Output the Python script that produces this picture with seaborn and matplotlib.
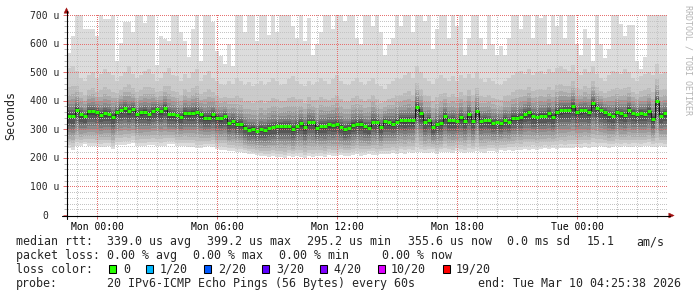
import numpy as np
import pandas as pd
import matplotlib
matplotlib.use("Agg")
import matplotlib.pyplot as plt
import seaborn as sns
from matplotlib.patches import Rectangle, Polygon
from matplotlib.lines import Line2D
from matplotlib.colors import to_rgba

# ---------------- data (microseconds, one value per 12-minute column) ----------------
median_us = [
    348, 348, 369, 352, 346, 363, 363, 360, 351, 357,
    354, 344, 360, 367, 373, 363, 370, 355, 360, 362,
    355, 365, 370, 365, 376, 352, 352, 351, 344, 358,
    357, 358, 361, 352, 339, 341, 352, 341, 338, 346,
    322, 330, 319, 319, 306, 298, 302, 295, 300, 298,
    304, 307, 310, 311, 311, 311, 301, 311, 321, 307,
    324, 324, 305, 311, 311, 318, 315, 318, 309, 301,
    305, 316, 318, 320, 311, 306, 326, 326, 307, 328,
    325, 320, 327, 334, 331, 333, 333, 379, 356, 327,
    334, 307, 319, 322, 347, 331, 332, 329, 342, 329,
    352, 329, 363, 329, 334, 331, 322, 326, 322, 334,
    326, 341, 341, 342, 354, 359, 346, 344, 348, 348,
    356, 344, 362, 366, 368, 368, 381, 360, 366, 366,
    362, 392, 376, 368, 361, 353, 347, 361, 356, 349,
    369, 358, 353, 358, 354, 365, 337, 399, 348, 356,
]
max_us = [
    566, 626, 700, 700, 650, 650, 650, 627, 700, 686,
    686, 700, 538, 601, 676, 676, 641, 700, 700, 671,
    700, 700, 526, 626, 615, 610, 700, 700, 640, 610,
    552, 650, 700, 538, 700, 700, 676, 575, 558, 527,
    597, 521, 700, 700, 640, 700, 700, 610, 700, 700,
    630, 700, 640, 700, 700, 700, 660, 620, 700, 610,
    690, 560, 600, 640, 700, 700, 650, 700, 700, 680,
    700, 700, 620, 600, 700, 700, 660, 700, 640, 560,
    600, 620, 700, 660, 700, 700, 640, 700, 700, 680,
    700, 580, 650, 700, 700, 620, 700, 660, 700, 560,
    620, 700, 700, 620, 580, 700, 600, 560, 590, 560,
    620, 700, 700, 650, 700, 700, 620, 700, 690, 700,
    600, 700, 660, 700, 620, 700, 700, 600, 560, 650,
    620, 540, 700, 600, 550, 580, 700, 700, 668, 627,
    664, 664, 540, 512, 553, 700, 700, 700, 700, 700,
]
second_max_us = [
    515, 520, 505, 480, 470, 490, 500, 480, 495, 510,
    500, 490, 470, 485, 500, 520, 495, 480, 490, 505,
    510, 495, 470, 480, 500, 515, 490, 485, 470, 495,
    480, 500, 510, 470, 490, 505, 480, 470, 460, 455,
    470, 460, 480, 470, 455, 465, 450, 460, 470, 455,
    465, 480, 470, 455, 460, 475, 485, 470, 460, 450,
    470, 455, 465, 480, 470, 460, 475, 490, 470, 460,
    455, 470, 480, 465, 455, 470, 480, 460, 450, 440,
    460, 470, 480, 475, 490, 500, 480, 520, 500, 480,
    470, 460, 475, 490, 480, 470, 485, 470, 490, 480,
    495, 480, 500, 475, 465, 480, 470, 460, 455, 470,
    480, 490, 500, 505, 495, 510, 490, 500, 505, 495,
    510, 500, 515, 520, 510, 505, 525, 500, 490, 510,
    500, 520, 495, 480, 470, 490, 505, 500, 495, 510,
    500, 480, 470, 485, 495, 500, 490, 530, 495, 500,
]
min_us = [
    233, 227, 241, 240, 247, 241, 241, 240, 239, 239,
    240, 230, 245, 245, 246, 248, 251, 241, 241, 240,
    245, 245, 241, 240, 241, 247, 248, 241, 241, 240,
    239, 239, 233, 235, 239, 240, 238, 230, 229, 227,
    225, 225, 222, 222, 218, 215, 212, 210, 207, 205,
    203, 206, 202, 204, 200, 205, 203, 207, 204, 201,
    205, 203, 208, 206, 204, 209, 207, 205, 210, 208,
    206, 210, 212, 208, 210, 213, 211, 209, 214, 212,
    214, 216, 213, 218, 215, 220, 217, 222, 219, 216,
    218, 221, 215, 219, 222, 220, 217, 223, 220, 218,
    222, 219, 224, 221, 218, 223, 225, 222, 226, 224,
    227, 225, 229, 226, 230, 228, 232, 229, 231, 233,
    230, 234, 232, 235, 233, 236, 234, 237, 235, 238,
    236, 239, 237, 240, 238, 236, 239, 241, 238, 240,
    237, 239, 241, 238, 240, 242, 239, 237, 240, 238,
]

x_tick_hours = [0, 6, 12, 18, 24]
x_tick_labels = ["Mon 00:00", "Mon 06:00", "Mon 12:00", "Mon 18:00", "Tue 00:00"]
y_tick_values = [0, 100, 200, 300, 400, 500, 600, 700]
y_tick_labels = ["0", "100 u", "200 u", "300 u", "400 u", "500 u", "600 u", "700 u"]

loss_labels = ["0", "1/20", "2/20", "3/20", "4/20", "10/20", "19/20"]
loss_colors = ["#26ff00", "#00b8ff", "#0059ff", "#5e00ff", "#7e00ff", "#dd00ff", "#ff0000"]

# ---------------- setup ----------------
sns.set_style("white")
plt.rcParams["font.family"] = ["DejaVu Sans Mono", "DejaVu Sans"]

W, H = 697, 297
L, R, T, B = 67, 667, 15, 215
PW, PH = R - L, B - T
fig = plt.figure(figsize=(W / 100, H / 100), dpi=100)
fig.patch.set_facecolor("white")
ax = fig.add_axes([L / W, 1 - B / H, PW / W, PH / H])
ax.set_facecolor("white")


def fx(x):
    return x / W


def fy(y):
    return 1 - y / H


STEP = 0.2
START = -1.5
n = len(median_us)
med = np.array(median_us, float)
hi = np.array(max_us, float)
hi2 = np.array(second_max_us, float)
lo = np.array(min_us, float)
edges = START + STEP * np.arange(n + 1)
XMAX = START + STEP * n


def ext(a):
    return np.append(a, a[-1])


# smoke bands (outer -> inner)
up_frac = [None, None, 0.60, 0.44, 0.33, 0.24, 0.17, 0.11, 0.065, 0.03]
lo_frac = [1.0, 0.90, 0.80, 0.70, 0.60, 0.50, 0.41, 0.32, 0.23, 0.11]
greys = ["#dcdcdc", "#cbcbcb", "#bbbbbb", "#ababab", "#9b9b9b",
         "#8b8b8b", "#7a7a7a", "#686868", "#565656", "#434343"]
for k in range(10):
    if k == 0:
        up = hi
    elif k == 1:
        up = hi2
    else:
        up = med + (hi2 - med) * up_frac[k]
    low = med - (med - lo) * lo_frac[k]
    ax.fill_between(edges, ext(low), ext(up), step="post", color=greys[k],
                    linewidth=0, zorder=1)

# dotted grid as a pixel-exact overlay (1 px dots every 2 px), over the smoke
GRID_MINOR = to_rgba("#c4c4c4")
GRID_MAJOR = to_rgba("#e67070")
grid_img = np.zeros((PH, PW, 4))
dot_cols = np.arange(1, PW, 2)
dot_rows = np.arange(0, PH, 2)


def hrow(v):
    return int(round((700 - v) * PH / 700.0))


def vcol(h):
    return int(round((h - START) * PW / (XMAX - START)))


for v in range(20, 701, 20):
    r = hrow(v)
    if 0 <= r < PH:
        grid_img[r, dot_cols] = GRID_MAJOR if v % 100 == 0 else GRID_MINOR
for h in range(-1, 29):
    c = vcol(h)
    if 0 <= c < PW:
        grid_img[dot_rows, c] = GRID_MAJOR if h % 6 == 0 else GRID_MINOR
ax.imshow(grid_img, extent=(START, XMAX, 0, 700), aspect="auto",
          interpolation="none", origin="upper", zorder=2.5)

# median: dark step connectors + green segments
df = pd.DataFrame({"t": edges, "v": ext(med)})
sns.lineplot(data=df, x="t", y="v", drawstyle="steps-post", color="#1a1a1a",
             linewidth=0.75, ax=ax, zorder=3)
ax.hlines(med, edges[:-1], edges[1:], colors=loss_colors[0], linewidth=2.2,
          zorder=4, capstyle="butt")

# limits / ticks
ax.set_xlim(START, XMAX)
ax.set_ylim(0, 700)
ax.set_xticks(x_tick_hours)
ax.set_xticks(np.arange(-1, 29), minor=True)
ax.set_yticks(y_tick_values)
ax.set_yticks(np.arange(0, 701, 20), minor=True)
ax.set_xticklabels(x_tick_labels, fontsize=7)
ax.set_yticklabels([])
ax.set_xlabel("")
ax.set_ylabel("")
ax.grid(False)
ax.tick_params(axis="x", which="major", length=3, width=0.72, color="#e07070",
               pad=2.3, labelsize=7, labelcolor="black", direction="out", bottom=True)
ax.tick_params(axis="x", which="minor", length=2, width=0.72, color="#b8b8b8",
               direction="out", bottom=True)
ax.tick_params(axis="y", which="major", length=3, width=0.72, color="#e07070",
               direction="out", left=True)
ax.tick_params(axis="y", which="minor", length=2, width=0.72, color="#b8b8b8",
               direction="out", left=True)
for s in ax.spines.values():
    s.set_visible(False)

# y tick labels
for v, lab in zip(y_tick_values, y_tick_labels):
    ypix = B - v * PH / 700.0
    xr = 47.8 if lab == "0" else 59.2
    fig.text(fx(xr), fy(ypix + 3.6), lab, ha="right", va="baseline", fontsize=7)

# axis lines with arrows
fig.add_artist(Line2D([fx(L - 0.5), fx(L - 0.5)], [fy(219), fy(11)], color="black", linewidth=0.8))
fig.add_artist(Line2D([fx(62), fx(670)], [fy(B + 0.5), fy(B + 0.5)], color="black", linewidth=0.8))
fig.add_artist(Polygon([[fx(64.0), fy(13.2)], [fx(69.0), fy(13.2)], [fx(66.5), fy(7.8)]],
                       closed=True, facecolor="#a01010", edgecolor="#a01010", linewidth=0.3))
fig.add_artist(Polygon([[fx(668.8), fy(213.0)], [fx(668.8), fy(218.0)], [fx(674.2), fy(215.5)]],
                       closed=True, facecolor="#a01010", edgecolor="#a01010", linewidth=0.3))

# y label & watermark
fig.text(fx(11), fy(115), "Seconds", rotation=90, ha="center", va="center", fontsize=8.4)
fig.text(fx(688), fy(60), "RRDTOOL / TOBI OETIKER", rotation=270, ha="center",
         va="center", fontsize=6, color="#b4b4b4")

# legend
FS = 8.4
def t(x, y, s, **kw):
    fig.text(fx(x), fy(y), s, ha="left", va="baseline", fontsize=FS, **kw)

y1, y2, y3, y4 = 245.3, 259.0, 273.0, 287.0
t(16, y1, "median rtt:")
t(107.3, y1, "339.0 us avg")
t(207.3, y1, "399.2 us max")
t(306.7, y1, "295.2 us min")
t(407.7, y1, "355.6 us now")
t(506.7, y1, "0.0 ms sd")
t(586.7, y1, "15.1")
t(636.7, y1, "am/s")

t(16, y2, "packet loss:")
t(107.3, y2, "0.00 % avg")
t(193.3, y2, "0.00 % max")
t(279.3, y2, "0.00 % min")
t(381.7, y2, "0.00 % now")

t(16, y3, "loss color:")
box_x = [108.8, 145.8, 203.8, 261.5, 319.8, 378.2, 442.6]
lab_x = [123.3, 160.0, 218.3, 276.0, 333.3, 391.0, 456.0]
for bx, lx, lab, col in zip(box_x, lab_x, loss_labels, loss_colors):
    fig.add_artist(Rectangle((fx(bx), fy(273.3)), 7 / W, 8 / H, facecolor=col,
                             edgecolor="black", linewidth=0.75, transform=fig.transFigure))
    t(lx, y3, lab)

t(16, y4, "probe:")
t(107.3, y4, "20 IPv6-ICMP Echo Pings (56 Bytes) every 60s")
fig.text(fx(680.5), fy(y4), "end: Tue Mar 10 04:25:38 2026", ha="right", va="baseline", fontsize=FS)

fig.savefig("out.png", dpi=100, facecolor="white")
